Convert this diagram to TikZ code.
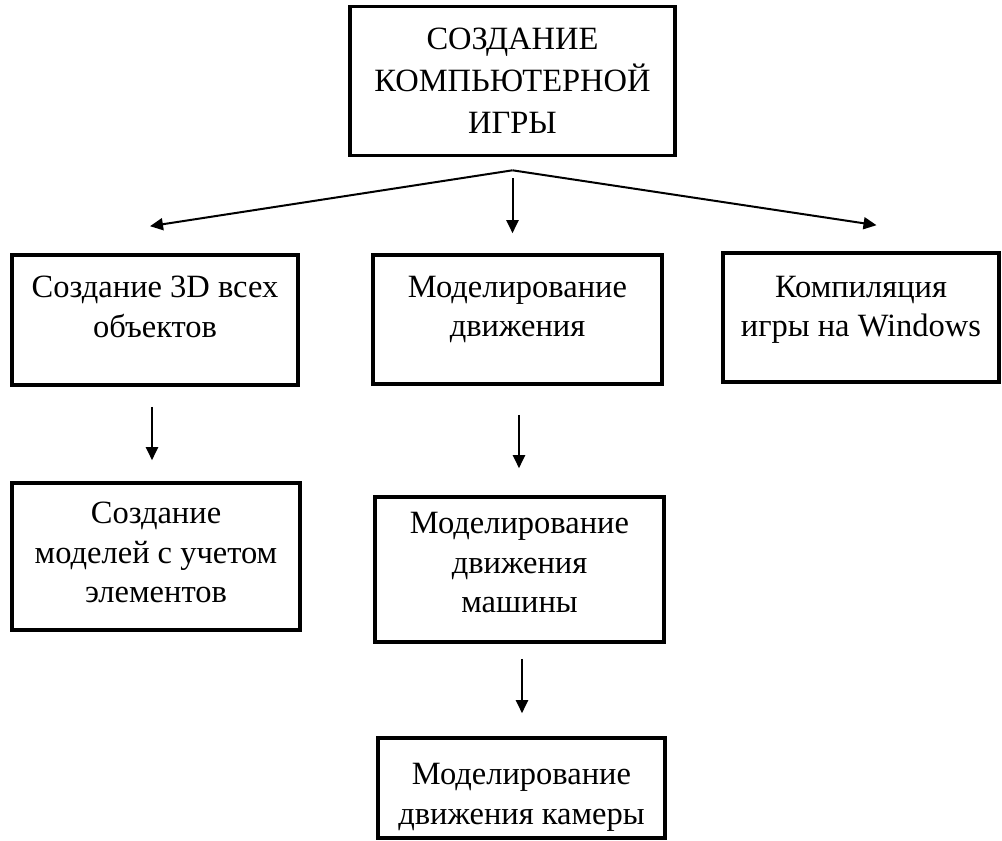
\documentclass[tikz,border=0pt]{standalone}
\usepackage{fontspec}
\setmainfont{Liberation Serif}
\usetikzlibrary{arrows.meta}

\begin{document}
\begin{tikzpicture}[x=0.5pt,y=-0.5pt,>={Triangle[length=6.5pt,width=6pt]},
                    box/.style={draw,line width=1.8pt,inner sep=0pt},
                    txt/.style={align=center,inner sep=0pt,anchor=north,
                      font=\fontsize{16.25}{19.75}\selectfont,
                      execute at begin node=\strut},
                    arr/.style={->,line width=1pt}]
  \useasboundingbox (0,0) rectangle (1002,841);

  \node[box,minimum width=162.5pt,minimum height=74.5pt,align=center,
        font=\fontsize{16.25}{21}\selectfont] (game) at (512.5,81)
        {СОЗДАНИЕ\\КОМПЬЮТЕРНОЙ\\ИГРЫ};

  \node[box,minimum width=143pt,minimum height=65pt]     (obj)    at (155,320)   {};
  \node[box,minimum width=144.5pt,minimum height=64.5pt] (move)   at (517.5,319.5) {};
  \node[box,minimum width=138pt,minimum height=64.5pt]   (build)  at (861,317.5) {};
  \node[box,minimum width=144pt,minimum height=73.5pt]   (models) at (156,556.5) {};
  \node[box,minimum width=144.5pt,minimum height=72.5pt] (car)    at (519.5,569.5) {};
  \node[box,minimum width=143.5pt,minimum height=50pt]   (camera) at (521.5,788) {};

  \node[txt] (objtxt)    at ([yshift=-11.2pt]obj.north)    {Создание 3D всех\\объектов};
  \node[txt] (movetxt)   at ([yshift=-11.2pt]move.north)   {Моделирование\\движения};
  \node[txt] (buildtxt)  at ([yshift=-12.2pt]build.north)  {Компиляция\\игры на Windows};
  \node[txt] (modelstxt) at ([yshift=-10.2pt]models.north) {Создание\\моделей с учетом\\элементов};
  \node[txt] (cartxt)    at ([yshift=-8.4pt]car.north)     {Моделирование\\движения\\машины};
  \node[txt] (cameratxt) at ([yshift=-13.4pt]camera.north) {Моделирование\\движения камеры};

  % fork under the top box
  \coordinate (fork) at ([yshift=-6.5pt]game.south);
  \draw[arr] (fork) -- ([shift={(-5,-27)}]obj.north);
  \draw[arr] (fork) -- ([shift={(15.5,-26)}]build.north);
  \draw[arr] ([yshift=-10.5pt]game.south) -- ([yshift=10pt]game.south |- move.north);

  \draw[arr] ([shift={(-3,20)}]obj.south)  -- ([shift={(-3,-21)}]obj.south |- models.north);
  \draw[arr] ([shift={(1.5,29)}]move.south) -- ([shift={(1.5,-27)}]move.south |- car.north);
  \draw[arr] ([shift={(2.5,15)}]car.south)  -- ([shift={(2.5,-23)}]car.south |- camera.north);

\end{tikzpicture}
\end{document}
